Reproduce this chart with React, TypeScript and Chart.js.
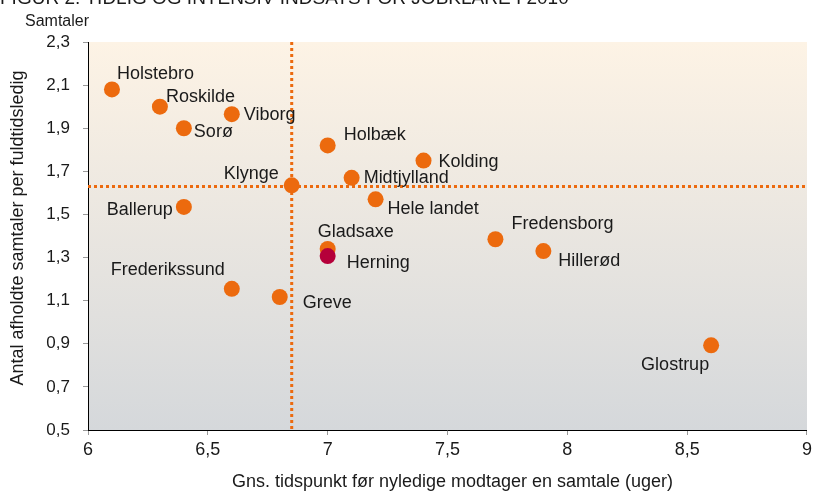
import React, { useEffect, useRef } from 'react';
import { Chart, registerables } from 'chart.js';

Chart.register(...registerables);

const chartTitle = 'FIGUR 2. TIDLIG OG INTENSIV INDSATS FOR JOBKLARE I 2010';
const yUnit = 'Samtaler';
const xAxisTitle = 'Gns. tidspunkt før nyledige modtager en samtale (uger)';
const yAxisTitle = 'Antal afholdte samtaler per fuldtidsledig';

const municipalities = [
  'Holstebro', 'Roskilde', 'Viborg', 'Sorø', 'Holbæk', 'Kolding', 'Midtjylland',
  'Klynge', 'Hele landet', 'Ballerup', 'Fredensborg', 'Hillerød', 'Gladsaxe',
  'Herning', 'Frederikssund', 'Greve', 'Glostrup',
];
const weeks = [6.1, 6.3, 6.6, 6.4, 7.0, 7.4, 7.1, 6.85, 7.2, 6.4, 7.7, 7.9, 7.0, 7.0, 6.6, 6.8, 8.6];
const talks = [2.08, 2.0, 1.965, 1.9, 1.82, 1.75, 1.67, 1.635, 1.57, 1.535, 1.385, 1.33, 1.34, 1.307, 1.155, 1.117, 0.893];
const highlighted = 'Herning';

const refWeeks = 6.85;
const refTalks = 1.63;

const xMin = 6, xMax = 9, xStep = 0.5;
const yMin = 0.5, yMax = 2.3, yStep = 0.2;

// label placement (style): [dx, dy, align]
const labelPlacement: [number, number, CanvasTextAlign][] = [
  [5, -15, 'left'], [6, -10, 'left'], [12, 1, 'left'], [10, 4, 'left'],
  [16, -10, 'left'], [15, 1, 'left'], [12, 0, 'left'], [-13, -11, 'right'],
  [12, 10, 'left'], [-11, 3, 'right'], [16, -15, 'left'], [15, 10, 'left'],
  [-10, -17, 'left'], [19, 7, 'left'], [-7, -19, 'right'], [23, 6, 'left'],
  [-36, 20, 'center'],
];

const ORANGE = '#EC6A0E';
const CRIMSON = '#B5003A';
const TEXT = '#1a1a1a';
const FONT = '"Liberation Sans", Arial, sans-serif';

const fmt = (v: number) => {
  const s = Math.abs(v - Math.round(v)) < 1e-6 ? String(Math.round(v)) : v.toFixed(1);
  return s.replace('.', ',');
};

export default function App() {
  const ref = useRef<HTMLCanvasElement | null>(null);

  useEffect(() => {
    if (!ref.current) return;

    const decor = {
      id: 'decor',
      beforeDraw(chart: any) {
        const { ctx, chartArea: a } = chart;
        ctx.save();
        const g = ctx.createLinearGradient(0, a.top, 0, a.bottom);
        g.addColorStop(0, 'rgb(253,243,229)');
        g.addColorStop(1, 'rgb(213,216,219)');
        ctx.fillStyle = g;
        ctx.fillRect(a.left, a.top, a.right - a.left, a.bottom - a.top);

        ctx.fillStyle = TEXT;
        ctx.textBaseline = 'alphabetic';
        ctx.textAlign = 'left';
        ctx.font = `16px ${FONT}`;
        ctx.fillText(yUnit, 25, 26);
        ctx.font = `19px ${FONT}`;
        ctx.fillText(chartTitle, 0, 4);

        // axis titles
        ctx.font = `18px ${FONT}`;
        ctx.textBaseline = 'middle';
        ctx.textAlign = 'center';
        ctx.fillText(xAxisTitle, (a.left + a.right) / 2 + 5, 482);
        ctx.translate(18.5, (a.top + a.bottom) / 2 - 8);
        ctx.rotate(-Math.PI / 2);
        ctx.fillText(yAxisTitle, 0, 0);
        ctx.restore();
      },
      beforeDatasetsDraw(chart: any) {
        const { ctx, chartArea: a, scales } = chart;
        const x = scales.x.getPixelForValue(refWeeks);
        const y = scales.y.getPixelForValue(refTalks);
        ctx.save();
        ctx.strokeStyle = ORANGE;
        ctx.lineWidth = 3;
        ctx.setLineDash([3, 3]);
        ctx.beginPath();
        ctx.moveTo(x, a.top);
        ctx.lineTo(x, a.bottom);
        ctx.moveTo(a.left, y);
        ctx.lineTo(a.right, y);
        ctx.stroke();
        ctx.restore();
      },
      afterDatasetsDraw(chart: any) {
        const { ctx } = chart;
        const meta = chart.getDatasetMeta(0);
        ctx.save();
        ctx.fillStyle = TEXT;
        ctx.font = `18px ${FONT}`;
        ctx.textBaseline = 'middle';
        meta.data.forEach((pt: any, i: number) => {
          const [dx, dy, align] = labelPlacement[i];
          ctx.textAlign = align;
          ctx.fillText(municipalities[i], pt.x + dx, pt.y + dy);
        });
        ctx.restore();
      },
    };

    const chart = new Chart(ref.current, {
      type: 'scatter',
      data: {
        datasets: [
          {
            data: weeks.map((w, i) => ({ x: w, y: talks[i] })),
            pointRadius: 8,
            pointHoverRadius: 8,
            pointBorderWidth: 0,
            pointBackgroundColor: municipalities.map((m) => (m === highlighted ? CRIMSON : ORANGE)),
            pointBorderColor: municipalities.map((m) => (m === highlighted ? CRIMSON : ORANGE)),
          },
        ],
      },
      options: {
        responsive: false,
        animation: false,
        layout: { padding: { top: 42, right: 4, left: 0, bottom: 0 } },
        plugins: { legend: { display: false }, tooltip: { enabled: false } },
        scales: {
          x: {
            type: 'linear',
            min: xMin,
            max: xMax,
            afterFit: (s: any) => { s.height = 63; },
            ticks: {
              stepSize: xStep,
              color: TEXT,
              font: { size: 18, family: FONT },
              padding: 4,
              maxRotation: 0,
              callback: (v: any) => fmt(Number(v)),
            },
            grid: { drawOnChartArea: false, drawTicks: true, tickLength: 5, color: '#999' },
            border: { display: true, color: '#000', width: 1 },
          },
          y: {
            type: 'linear',
            min: yMin,
            max: yMax,
            afterFit: (s: any) => { s.width = 88; },
            ticks: {
              stepSize: yStep,
              color: TEXT,
              font: { size: 17, family: FONT },
              padding: 13,
              callback: (v: any) => fmt(Number(v)),
            },
            grid: { drawOnChartArea: false, drawTicks: true, tickLength: 5, color: '#999' },
            border: { display: true, color: '#000', width: 1 },
          },
        },
      },
      plugins: [decor],
    });

    return () => chart.destroy();
  }, []);

  return (
    <div style={{ position: 'fixed', left: 0, top: 0, width: 816, height: 493, background: '#fff' }}>
      <canvas ref={ref} width={816} height={493} />
    </div>
  );
}
